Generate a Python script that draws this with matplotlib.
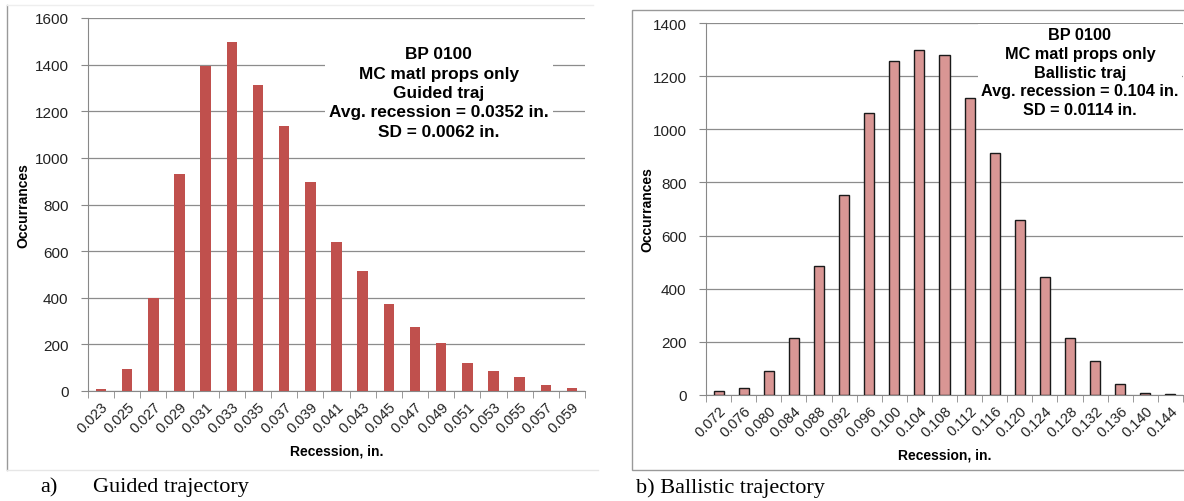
import matplotlib.pyplot as plt
import numpy as np

plt.rcParams['font.family'] = ['Liberation Sans', 'DejaVu Sans']

# guided trajectory histogram
guided_bins = ['0.023', '0.025', '0.027', '0.029', '0.031', '0.033', '0.035',
               '0.037', '0.039', '0.041', '0.043', '0.045', '0.047', '0.049',
               '0.051', '0.053', '0.055', '0.057', '0.059']
guided_counts = [8, 95, 400, 930, 1395, 1497, 1313, 1135, 895, 638, 515, 375,
                 273, 205, 122, 87, 60, 25, 15]

# ballistic trajectory histogram
ballistic_bins = ['0.072', '0.076', '0.080', '0.084', '0.088', '0.092', '0.096',
                  '0.100', '0.104', '0.108', '0.112', '0.116', '0.120', '0.124',
                  '0.128', '0.132', '0.136', '0.140', '0.144']
ballistic_counts = [15, 25, 90, 215, 487, 752, 1060, 1257, 1297, 1278, 1118,
                    912, 660, 443, 215, 127, 43, 7, 3]

guided_text = ("BP 0100\nMC matl props only\nGuided traj\n"
               "Avg. recession = 0.0352 in.\nSD = 0.0062 in.")
ballistic_text = ("BP 0100\nMC matl props only\nBallistic traj\n"
                  "Avg. recession = 0.104 in.\nSD = 0.0114 in.")

W, H = 1184, 502
fig = plt.figure(figsize=(W / 100, H / 100), dpi=100)


def px_axes(left, top, right, bottom):
    return fig.add_axes([left / W, 1 - bottom / H, (right - left) / W, (bottom - top) / H])


def style_axes(ax, bins, counts, ymax, ystep, color, edge, ylab_x):
    x = np.arange(len(bins))
    ax.bar(x, counts, width=0.4, color=color, edgecolor=edge,
           linewidth=1.0 if edge != 'none' else 0, zorder=3)
    ax.set_xlim(-0.5, len(bins) - 0.5)
    ax.set_ylim(0, ymax)
    ax.set_yticks(np.arange(0, ymax + 1, ystep))
    ax.yaxis.grid(True, color='#8c8c8c', linewidth=0.9, zorder=0)
    ax.set_xticks(x)
    ax.set_xticklabels(bins, rotation=45, ha='right', rotation_mode='anchor',
                       fontsize=10.5, color='#222222')
    ax.tick_params(axis='x', length=0, pad=6)
    ax.set_xticks(np.arange(-0.5, len(bins)), minor=True)
    ax.tick_params(axis='x', which='minor', length=5, color='#888888')
    ax.tick_params(axis='y', length=5, color='#888888', labelsize=11,
                   labelcolor='#222222', pad=9)
    for s in ['top', 'right']:
        ax.spines[s].set_visible(False)
    for s in ['left', 'bottom']:
        ax.spines[s].set_color('#888888')
    ax.set_ylabel('Occurrances', fontsize=10, fontweight='bold')
    ax.yaxis.set_label_coords(ylab_x, 0.5)
    ax.set_xlabel('Recession, in.', fontsize=10, fontweight='bold', labelpad=6)


# panel frames
fig.add_artist(plt.Line2D([7 / W, 7 / W], [1 - 6 / H, 1 - 471 / H], color='#999999', lw=1))
fig.add_artist(plt.Line2D([7 / W, 598 / W], [1 - 471 / H, 1 - 471 / H], color='#e6e6e6', lw=1))
fig.add_artist(plt.Line2D([7 / W, 593 / W], [1 - 6 / H, 1 - 6 / H], color='#eeeeee', lw=1))
fig.add_artist(plt.Rectangle((632 / W, 1 - 471 / H), (W - 631) / W, (471 - 11) / H,
                             fill=False, edgecolor='#999999', lw=1))

ax1 = px_axes(88, 19, 585, 392)
style_axes(ax1, guided_bins, guided_counts, 1600, 200, '#c0504d', 'none', -0.115)
ax1.text(0.706, 0.80, guided_text, transform=ax1.transAxes, ha='center', va='center',
         fontsize=12.4, fontweight='bold', linespacing=1.36, zorder=2,
         bbox=dict(boxstyle='square,pad=0.25', fc='white', ec='none'))

ax2 = px_axes(706, 24, 1183, 396)
style_axes(ax2, ballistic_bins, ballistic_counts, 1400, 200, '#d99694', '#1a1a1a', -0.109)
ax2.text(0.784, 0.868, ballistic_text, transform=ax2.transAxes, ha='center', va='center',
         fontsize=11.7, fontweight='bold', linespacing=1.32, zorder=2,
         bbox=dict(boxstyle='square,pad=0.2', fc='white', ec='none'))

serif = ['Liberation Serif', 'DejaVu Serif']
fig.text(40 / W, 1 - 488 / H, 'a)', fontsize=16, family=serif, va='center')
fig.text(93 / W, 1 - 488 / H, 'Guided trajectory', fontsize=16, family=serif, va='center')
fig.text(636 / W, 1 - 488 / H, 'b) Ballistic trajectory', fontsize=16, family=serif, va='center')

fig.savefig('out.png', dpi=100)
